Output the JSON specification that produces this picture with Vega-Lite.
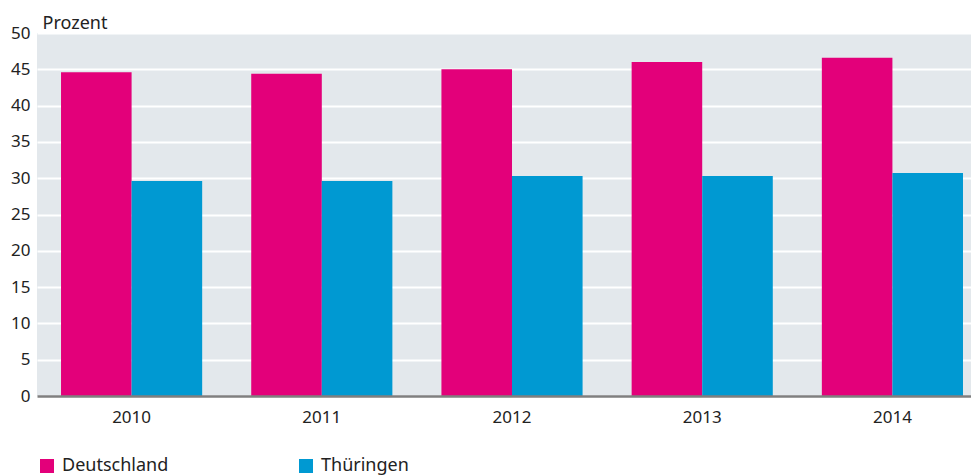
{
  "$schema": "https://vega.github.io/schema/vega-lite/v6.json",
  "autosize": {"type": "none"},
  "padding": {"left": 37, "top": 33, "right": 0, "bottom": 79},
  "width": 934,
  "height": 363,
  "background": "white",
  "config": {
    "view": {"fill": "#E3E8EC", "stroke": null},
    "font": "Noto Sans",
    "text": {"color": "#222222"}
  },
  "data": {
    "values": [
      {"jahr": "2010", "region": "Deutschland", "wert": 44.6},
      {"jahr": "2010", "region": "Thüringen", "wert": 29.6},
      {"jahr": "2011", "region": "Deutschland", "wert": 44.4},
      {"jahr": "2011", "region": "Thüringen", "wert": 29.6},
      {"jahr": "2012", "region": "Deutschland", "wert": 45.0},
      {"jahr": "2012", "region": "Thüringen", "wert": 30.3},
      {"jahr": "2013", "region": "Deutschland", "wert": 46.0},
      {"jahr": "2013", "region": "Thüringen", "wert": 30.3},
      {"jahr": "2014", "region": "Deutschland", "wert": 46.6},
      {"jahr": "2014", "region": "Thüringen", "wert": 30.7}
    ]
  },
  "mark": {"type": "bar"},
  "encoding": {
    "x": {
      "field": "jahr",
      "type": "nominal",
      "scale": {"paddingInner": 0.2579, "paddingOuter": 0.0842, "align": 0.75},
      "axis": {
        "title": null,
        "labelAngle": 0,
        "labelFontSize": 17,
        "labelColor": "#222222",
        "labelPadding": 13,
        "ticks": false,
        "domainColor": "#7F7F7F",
        "domainWidth": 2.5,
        "grid": false,
        "zindex": 1
      }
    },
    "xOffset": {"field": "region", "type": "nominal", "scale": {"paddingInner": 0, "paddingOuter": 0}},
    "y": {
      "field": "wert",
      "type": "quantitative",
      "scale": {"domain": [0, 50], "nice": false},
      "axis": {
        "title": "Prozent",
        "titleAngle": 0,
        "titleAlign": "left",
        "titleBaseline": "alphabetic",
        "titleX": 5,
        "titleY": -5,
        "titleFontSize": 18,
        "titleFontWeight": "normal",
        "titleColor": "#222222",
        "values": [0, 5, 10, 15, 20, 25, 30, 35, 40, 45, 50],
        "labelFontSize": 17,
        "labelColor": "#222222",
        "labelPadding": 7,
        "ticks": false,
        "domain": false,
        "grid": true,
        "gridColor": "white",
        "gridWidth": 2.2,
        "gridOpacity": 1
      }
    },
    "color": {
      "field": "region",
      "type": "nominal",
      "scale": {"domain": ["Deutschland", "Thüringen"], "range": ["#E3007A", "#0099D2"]},
      "legend": {
        "title": null,
        "orient": "none",
        "legendX": 1,
        "legendY": 424,
        "direction": "horizontal",
        "columns": 2,
        "columnPadding": 128,
        "symbolType": "square",
        "symbolSize": 196,
        "symbolStrokeWidth": 0,
        "symbolOpacity": 1,
        "labelFontSize": 18,
        "labelColor": "#222222",
        "labelOffset": 6
      }
    }
  }
}
